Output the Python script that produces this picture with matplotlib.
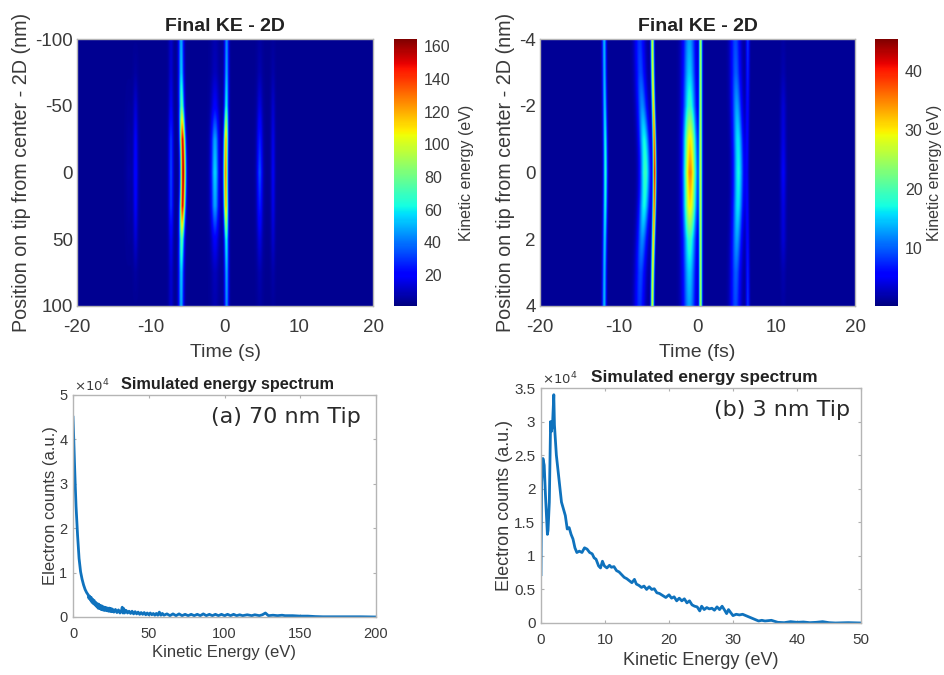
import numpy as np
import matplotlib
matplotlib.use("Agg")
import matplotlib.pyplot as plt

plt.rcParams['font.family'] = ['Liberation Sans', 'DejaVu Sans']
plt.rcParams['axes.unicode_minus'] = False
W, H = 944, 675
TEXT = '#3a3a3a'

# --- Heat map A: streaks as (time at edge, time at centre, width, KE at |pos| = 0, 25, 50, 75, 100 nm)
pos_a = [0, 25, 50, 75, 100]
time_a = [-13.0, -12.1, -7.3, -5.93, -1.35, 0.22, 4.7, 6.5]
time_a_centre = [-13.0, -12.1, -7.3, -5.66, -1.35, 0.09, 4.7, 6.5]
width_a = [0.3, 0.22, 0.22, 0.24, 0.36, 0.2, 0.27, 0.2]
ke_a = [
    [3, 2, 1, 0, 0],
    [18, 15, 9, 2, 0],
    [28, 26, 14, 9, 8],
    [155, 148, 72, 50, 45],
    [52, 44, 16, 6, 4],
    [125, 115, 58, 45, 40],
    [30, 22, 11, 4, 2],
    [14, 12, 8, 3, 1],
]

# --- Heat map B
pos_b = [0, 1, 2, 3, 4]
time_b = [-11.86, -7.4, -5.75, -1.05, 0.4, 4.8, 6.4, 10.9]
time_b_centre = [-11.7, -6.65, -5.45, -0.93, 0.4, 5.2, 6.3, 10.9]
width_b = [0.18, 0.45, 0.14, 0.56, 0.14, 0.45, 0.16, 0.25]
ke_b = [
    [17, 16, 14, 13, 13],
    [18, 16, 11, 8, 7],
    [40, 36, 31, 28, 27],
    [34, 29, 18, 14, 12],
    [24, 24, 24, 24, 24],
    [16, 15, 12, 9, 8],
    [3, 4, 5, 6, 7],
    [4, 3, 2.5, 1, 0.5],
]

# --- Spectrum (a): 70 nm tip
energy_a = [0, 0.5, 1, 1.5, 2, 3, 4, 5, 6, 7, 8, 9, 10, 10.5, 11, 11.5, 12, 12.5, 13, 13.5, 14, 14.5, 15, 15.5,
            16, 16.5, 17, 17.5, 18, 18.5, 19, 19.5, 20, 20.5, 21, 21.5, 22, 22.5, 23, 23.5, 24, 24.5, 25, 25.5,
            26, 27, 28, 29, 30, 31, 32, 32.5, 33, 33.5, 34, 35, 36, 37, 38, 39, 40, 41, 42, 43, 44, 45, 46, 47,
            48, 49, 50, 51, 52, 53, 54, 55, 56, 57, 58, 59, 60, 62, 64, 66, 68, 70, 72, 74, 76, 78, 80, 82, 84,
            86, 88, 90, 92, 94, 96, 98, 100, 102, 104, 106, 108, 110, 112, 115, 118, 120, 123, 125, 127, 129,
            132, 135, 138, 140, 145, 150, 155, 160, 165, 170, 180, 190, 200]
counts_a = [4.5, 4.0, 3.45, 2.95, 2.5, 1.85, 1.32, 1.02, 0.85, 0.72, 0.62, 0.55, 0.5, 0.42, 0.47, 0.38, 0.44,
            0.33, 0.4, 0.3, 0.37, 0.27, 0.33, 0.24, 0.3, 0.2, 0.29, 0.19, 0.26, 0.17, 0.25, 0.16, 0.23, 0.15,
            0.22, 0.15, 0.21, 0.14, 0.2, 0.13, 0.2, 0.13, 0.19, 0.12, 0.18, 0.11, 0.17, 0.1, 0.16, 0.09, 0.15,
            0.22, 0.09, 0.19, 0.09, 0.15, 0.09, 0.13, 0.08, 0.13, 0.07, 0.12, 0.07, 0.11, 0.06, 0.1, 0.06, 0.1,
            0.05, 0.09, 0.05, 0.09, 0.05, 0.08, 0.04, 0.08, 0.04, 0.11, 0.04, 0.08, 0.04, 0.07, 0.03, 0.07,
            0.03, 0.07, 0.03, 0.06, 0.03, 0.06, 0.03, 0.06, 0.03, 0.07, 0.03, 0.06, 0.03, 0.06, 0.03, 0.06,
            0.03, 0.06, 0.03, 0.06, 0.03, 0.05, 0.03, 0.05, 0.03, 0.05, 0.03, 0.05, 0.09, 0.03, 0.04, 0.03,
            0.04, 0.03, 0.03, 0.02, 0.02, 0.01, 0.005, 0.005, 0.005, 0.005, 0.0]

# --- Spectrum (b): 3 nm tip
energy_b = [0, 0.1, 0.3, 0.5, 0.7, 1.0, 1.1, 1.3, 1.5, 1.6, 1.8, 2.0, 2.1, 2.4, 2.8, 3.2, 3.5, 3.8, 4.1,
            4.4, 4.7, 5.0, 5.3, 5.6, 6.0, 6.4, 6.8, 7.2, 7.6, 8.0, 8.3, 8.6, 9.0, 9.3, 9.6, 9.9, 10.3,
            10.7, 11.0, 11.4, 11.8, 12.2, 12.6, 13.0, 13.4, 13.8, 14.2, 14.6, 14.9, 15.3, 15.7, 16.1,
            16.5, 16.9, 17.3, 17.7, 18.1, 18.5, 19, 19.5, 20, 20.4, 20.8, 21.2, 21.6, 22, 22.4, 22.8,
            23.2, 23.6, 24, 24.4, 24.8, 25.1, 25.5, 25.9, 26.3, 26.7, 27.1, 27.5, 27.9, 28.3, 28.7,
            29.0, 29.3, 29.6, 30, 30.5, 31, 31.5, 32, 32.5, 33, 33.5, 34, 34.5, 35, 36, 37, 38, 39,
            40, 41, 42, 43, 44, 45, 46, 48, 50]
counts_b = [0.72, 2.1, 2.45, 2.35, 1.9, 1.32, 1.38, 1.8, 3.0, 2.85, 2.95, 3.4, 2.95, 2.5, 2.15, 1.8,
            1.7, 1.6, 1.4, 1.42, 1.32, 1.25, 1.12, 1.05, 1.07, 1.05, 1.12, 1.1, 1.05, 1.03, 0.97, 0.95,
            0.85, 0.82, 0.92, 0.85, 0.82, 0.86, 0.83, 0.84, 0.78, 0.76, 0.72, 0.68, 0.66, 0.63, 0.6, 0.65,
            0.58, 0.56, 0.53, 0.55, 0.5, 0.54, 0.5, 0.51, 0.45, 0.44, 0.41, 0.38, 0.42, 0.37, 0.39, 0.33,
            0.37, 0.33, 0.36, 0.3, 0.33, 0.27, 0.25, 0.24, 0.18, 0.25, 0.2, 0.23, 0.21, 0.22, 0.19, 0.24,
            0.2, 0.25, 0.19, 0.14, 0.2, 0.16, 0.11, 0.13, 0.12, 0.13, 0.11, 0.09, 0.07, 0.05, 0.03,
            0.04, 0.03, 0.04, 0.01, 0.005, 0.02, 0.01, 0.015, 0.005, 0.01, 0.02, 0.005, 0.0, 0.005, 0.0]


def field(t, y, ylim, times, centres, widths, kes, pos, floor, bend):
    Y, T = np.meshgrid(y, t, indexing='ij')
    Z = np.full(T.shape, floor, float)
    r = np.abs(Y) / ylim
    for t0, tc, w, k in zip(times, centres, widths, kes):
        c = t0 + (tc - t0) * np.exp(-(r / bend) ** 2)
        peak = np.interp(np.abs(Y), pos, k)
        Z += peak * np.exp(-0.5 * ((T - c) / w) ** 2)
    return Z


def axes_px(x0, x1, y0, y1):
    return fig.add_axes([x0 / W, 1 - y1 / H, (x1 - x0) / W, (y1 - y0) / H])


def style(ax, fs):
    ax.tick_params(labelsize=fs, colors=TEXT, length=0, pad=4)
    for s in ax.spines.values():
        s.set_color('#b5b5b5')
        s.set_linewidth(1.0)


def heat(box, cbox, times, centres, widths, kes, pos, ylim, vmax, vmin, floor, bend, yticks, yt, cticks, xlabel, clabelpad):
    ax = axes_px(*box)
    t = np.linspace(-20, 20, 1200)
    y = np.linspace(-ylim, ylim, 401)
    Z = field(t, y, ylim, times, centres, widths, kes, pos, floor, bend)
    im = ax.imshow(Z, extent=[-20, 20, ylim, -ylim], aspect='auto', cmap='jet', vmin=vmin, vmax=vmax,
                   interpolation='bilinear')
    ax.set_xticks([-20, -10, 0, 10, 20])
    ax.set_yticks(yticks)
    ax.set_yticklabels(yt)
    style(ax, 13.5)
    ax.tick_params(axis='x', pad=9)
    ax.tick_params(axis='y', pad=3)
    ax.set_xlabel(xlabel, fontsize=14, color=TEXT, labelpad=6)
    ax.set_ylabel('Position on tip from center - 2D (nm)', fontsize=14.2, color=TEXT, labelpad=3)
    ax.set_title('Final KE - 2D', fontsize=14, fontweight='bold', color='#222222', pad=6)
    cax = axes_px(*cbox)
    cb = fig.colorbar(im, cax=cax)
    cb.set_ticks(cticks)
    cb.ax.tick_params(labelsize=11.5, colors=TEXT, length=0, pad=5)
    cb.outline.set_visible(False)
    cb.set_label('Kinetic energy (eV)', fontsize=11.5, color=TEXT, labelpad=clabelpad)


def spectrum(box, x, yv, xlim, ylim, xt, yt, ytl, note, notex, notey, fs, labfs, ypad, xpad):
    ax = axes_px(*box)
    ax.plot(x, yv, color='#0f72bd', lw=2.0)
    ax.set_xlim(*xlim)
    ax.set_ylim(*ylim)
    ax.set_xticks(xt)
    ax.set_yticks(yt)
    ax.set_yticklabels(ytl)
    style(ax, fs)
    ax.tick_params(axis='both', length=2.5, width=0.8, color='#b0b0b0', direction='in', top=True, right=True)
    ax.tick_params(axis='x', pad=7)
    ax.set_xlabel('Kinetic Energy (eV)', fontsize=labfs, color=TEXT, labelpad=xpad)
    ax.set_ylabel('Electron counts (a.u.)', fontsize=labfs, color=TEXT, labelpad=ypad)
    ax.text(notex, notey, note, transform=ax.transAxes, ha='right', va='center', fontsize=16,
            family=['DejaVu Sans'], color='#2a2a2a')
    ax.text(0.003, 1.005, r'$\times 10^4$', transform=ax.transAxes, ha='left', va='bottom', fontsize=9.5,
            color=TEXT, math_fontfamily='dejavusans')
    return ax


fig = plt.figure(figsize=(W / 100, H / 100), dpi=100, facecolor='white')

heat((77, 373, 39, 306), (394, 417, 39, 306), time_a, time_a_centre, width_a, ke_a, pos_a, 100,
     164.5, 1.0, 4.0, 0.45, [-100, -50, 0, 50, 100], ['-100', '-50', '0', '50', '100'],
     [20, 40, 60, 80, 100, 120, 140, 160], 'Time (s)', 6)
heat((540, 855, 39, 306), (875, 898, 39, 306), time_b, time_b_centre, width_b, ke_b, pos_b, 4,
     45.5, 0.2, 1.1, 0.6, [-4, -2, 0, 2, 4], ['-4', '-2', '0', '2', '4'],
     [10, 20, 30, 40], 'Time (fs)', 3)

a = spectrum((73, 376, 395, 617), energy_a, counts_a, (0, 200), (0, 5), [0, 50, 100, 150, 200],
             [0, 1, 2, 3, 4, 5], ['0', '1', '2', '3', '4', '5'], '(a) 70 nm Tip', 0.95, 0.9, 10.5, 12, 1, 3)
a.set_title('Simulated energy spectrum', fontsize=11.7, fontweight='bold', color='#222222', pad=4, x=0.51)
b = spectrum((541, 861, 388, 623), energy_b, counts_b, (0, 50), (0, 3.5), [0, 10, 20, 30, 40, 50],
             [0, 0.5, 1, 1.5, 2, 2.5, 3, 3.5], ['0', '0.5', '1', '1.5', '2', '2.5', '3', '3.5'],
             '(b) 3 nm Tip', 0.965, 0.905, 11, 13, 1, 4)
b.set_title('Simulated energy spectrum', fontsize=12.4, fontweight='bold', color='#222222', pad=4, x=0.51)

fig.savefig('out.png', dpi=100)
